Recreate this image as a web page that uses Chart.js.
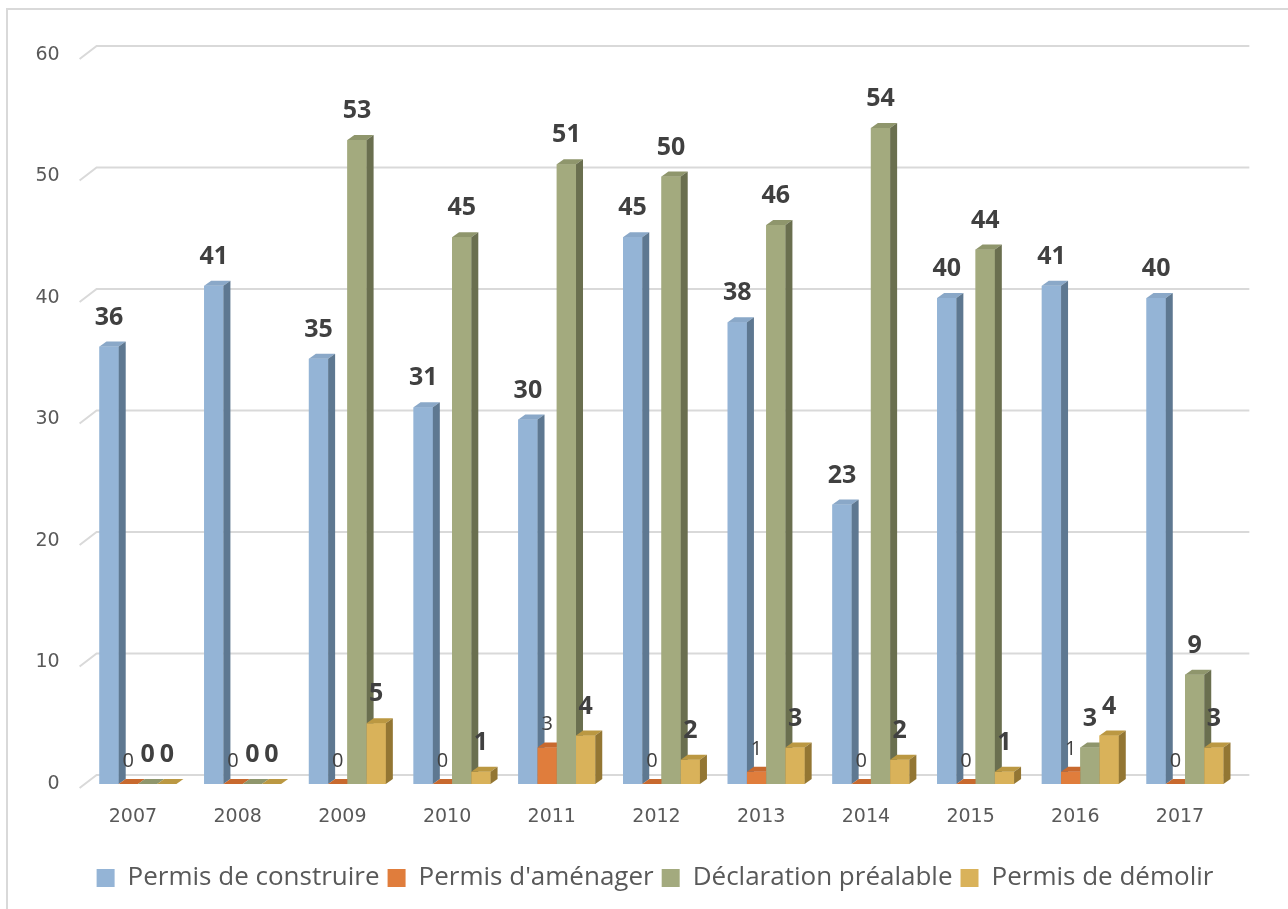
<!DOCTYPE html>
<html lang="fr">
<head>
<meta charset="utf-8">
<title>Autorisations d'urbanisme 2007-2017</title>
<script src="https://cdn.jsdelivr.net/npm/chart.js@4.4.1/dist/chart.umd.min.js"></script>
<style>
  html, body { margin: 0; padding: 0; background: #fff; }
  #wrap { width: 1288px; height: 909px; }
</style>
</head>
<body>
<div id="wrap"><canvas id="permitChart" width="1288" height="909"></canvas></div>
<script>
const years = ["2007", "2008", "2009", "2010", "2011", "2012", "2013", "2014", "2015", "2016", "2017"];
const seriesNames = ["Permis de construire", "Permis d'aménager", "Déclaration préalable", "Permis de démolir"];
const construire = [36, 41, 35, 31, 30, 45, 38, 23, 40, 41, 40];
const amenager = [0, 0, 0, 0, 3, 0, 1, 0, 0, 1, 0];
const declaration = [0, 0, 53, 45, 51, 50, 46, 54, 44, 3, 9];
const demolir = [0, 0, 5, 1, 4, 2, 3, 2, 1, 4, 3];
const yTicks = [0, 10, 20, 30, 40, 50, 60];

// front, top, side colours for each series
const faces = [
  { front: "#94b4d6", top: "#8aa8c8", side: "#5e7891" },
  { front: "#e07d3c", top: "#c8692e", side: "#a35626" },
  { front: "#a3aa7e", top: "#8f966c", side: "#6a6f4f" },
  { front: "#d9b25a", top: "#bb9842", side: "#937633" }
];
const boldLabels = [true, false, true, true];

const depthX = 7;
const depthY = 5;
const gridColor = "#d9d9d9";
const textColor = "#595959";

const frame = {
  id: "frame",
  beforeDraw(chart) {
    const ctx = chart.ctx;
    ctx.save();
    ctx.strokeStyle = gridColor;
    ctx.lineWidth = 2;
    ctx.strokeRect(7, 9, 2000, 2000);
    ctx.restore();
  },
  beforeDatasetsDraw(chart) {
    const { ctx, chartArea, scales } = chart;
    ctx.save();
    ctx.strokeStyle = gridColor;
    ctx.lineWidth = 2;
    yTicks.forEach(v => {
      const yb = scales.y.getPixelForValue(v) - 9;
      ctx.beginPath();
      ctx.moveTo(chartArea.left - 6, yb + 13);
      ctx.lineTo(chartArea.left + 11, yb);
      ctx.lineTo(chartArea.right + 12, yb);
      ctx.stroke();
    });
    ctx.restore();
  }
};

// redraw each bar as a box so the next bar's front hides the previous side
const boxes = {
  id: "boxes",
  afterDatasetsDraw(chart) {
    const ctx = chart.ctx;
    const metas = chart.data.datasets.map((d, i) => chart.getDatasetMeta(i));
    ctx.save();
    years.forEach((year, i) => {
      metas.forEach((meta, d) => {
        const bar = meta.data[i];
        const left = bar.x - bar.width / 2;
        const right = bar.x + bar.width / 2;
        const top = bar.y;
        const base = bar.base;
        const c = faces[d];

        ctx.fillStyle = c.front;
        ctx.fillRect(left, top, right - left, base - top);

        ctx.fillStyle = c.top;
        ctx.beginPath();
        ctx.moveTo(left, top);
        ctx.lineTo(left + depthX, top - depthY);
        ctx.lineTo(right + depthX, top - depthY);
        ctx.lineTo(right, top);
        ctx.closePath();
        ctx.fill();

        ctx.fillStyle = c.side;
        ctx.beginPath();
        ctx.moveTo(right, top);
        ctx.lineTo(right + depthX, top - depthY);
        ctx.lineTo(right + depthX, base - depthY);
        ctx.lineTo(right, base);
        ctx.closePath();
        ctx.fill();
      });
    });

    ctx.textAlign = "center";
    ctx.textBaseline = "middle";
    ctx.fillStyle = "#404040";
    metas.forEach((meta, d) => {
      const values = chart.data.datasets[d].data;
      meta.data.forEach((bar, i) => {
        if (boldLabels[d]) {
          ctx.font = "bold 25px 'Open Sans'";
          ctx.fillText(values[i], bar.x, bar.y - 29);
        } else {
          ctx.font = "20px 'Open Sans'";
          ctx.fillText(values[i], bar.x, bar.y - 23);
        }
      });
    });
    ctx.restore();
  }
};

const ctx = document.getElementById("permitChart").getContext("2d");
const chart = new Chart(ctx, {
  type: "bar",
  data: {
    labels: years,
    datasets: [construire, amenager, declaration, demolir].map((data, i) => ({
      label: seriesNames[i],
      data,
      backgroundColor: faces[i].front,
      borderWidth: 0,
      categoryPercentage: 0.735,
      barPercentage: 1
    }))
  },
  options: {
    responsive: false,
    animation: false,
    layout: { padding: { top: 55, right: 8, bottom: 8, left: 30 } },
    scales: {
      x: {
        grid: { display: false, drawTicks: false },
        border: { display: false },
        ticks: {
          color: textColor,
          font: { family: "DejaVu Sans", size: 19 },
          padding: 22,
          labelOffset: -5
        },
        afterFit(scale) { scale.height = 73; }
      },
      y: {
        min: 0,
        max: 60,
        grid: { display: false, drawTicks: false },
        border: { display: false },
        ticks: {
          stepSize: 10,
          color: textColor,
          font: { family: "DejaVu Sans", size: 19 },
          padding: 26
        },
        afterFit(scale) { scale.width = 55.6; }
      },
      // empty right-hand axis, only keeps room on the right so the legend stays centred
      spacer: {
        type: "linear",
        position: "right",
        grid: { display: false, drawTicks: false },
        border: { display: false },
        ticks: { display: false },
        afterFit(scale) { scale.width = 42.65; }
      }
    },
    plugins: {
      legend: {
        position: "bottom",
        labels: {
          color: textColor,
          font: { family: "Open Sans", size: 26 },
          boxWidth: 18,
          boxHeight: 18,
          padding: 8
        }
      },
      tooltip: { enabled: false }
    }
  },
  plugins: [frame, boxes]
});
</script>
</body>
</html>
